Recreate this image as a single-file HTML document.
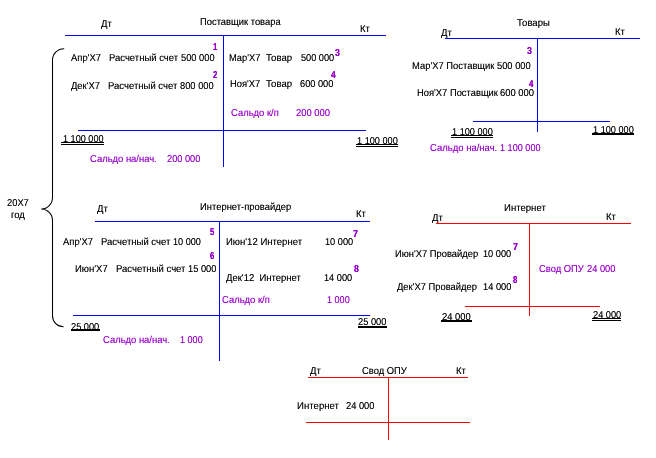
<!DOCTYPE html>
<html lang="ru">
<head>
<meta charset="utf-8">
<title>Т-счета</title>
<style>
html,body{margin:0;padding:0;background:#fff;}
body{width:656px;height:458px;position:relative;overflow:hidden;font-family:"Liberation Sans",sans-serif;}
#lines{position:absolute;left:0;top:0;}
#txt{position:absolute;left:0;top:0;width:656px;height:458px;will-change:transform;text-rendering:geometricPrecision;}
.t{position:absolute;white-space:pre;font-size:10px;line-height:12px;height:12px;margin:0;padding:0;text-shadow:0 0 0 rgba(0,0,0,0.5);transform-origin:0 0;}
.p{color:#9900cc;text-shadow:0 0 0 rgba(153,0,204,0.5);}
.b{font-weight:bold;text-shadow:0 0 0 #9900cc;}
</style>
</head>
<body>
<svg id="lines" width="656" height="458" viewBox="0 0 656 458">
<g shape-rendering="crispEdges">
<rect x="65" y="35" width="321" height="1" fill="#0000ff"/>
<rect x="78" y="130" width="288" height="1" fill="#0000ff"/>
<rect x="445" y="38" width="195" height="1" fill="#0000ff"/>
<rect x="473" y="121" width="137" height="1" fill="#0000ff"/>
<rect x="95" y="221" width="275" height="1" fill="#0000ff"/>
<rect x="73" y="315" width="297" height="1" fill="#0000ff"/>
<rect x="436" y="223" width="195" height="1" fill="#ff0000"/>
<rect x="465" y="306" width="135" height="1" fill="#ff0000"/>
<rect x="308" y="377" width="160" height="1" fill="#ff0000"/>
<rect x="306" y="422" width="164" height="1" fill="#ff0000"/>
<rect x="223" y="35" width="1" height="132" fill="#0000ff"/>
<rect x="537" y="38" width="1" height="94" fill="#0000ff"/>
<rect x="219" y="221" width="1" height="140" fill="#0000ff"/>
<rect x="529" y="223" width="1" height="93" fill="#ff0000"/>
<rect x="388" y="377" width="1" height="63" fill="#ff0000"/>
<rect x="61" y="142" width="43" height="1" fill="#000"/>
<rect x="61" y="144" width="43" height="1" fill="#000"/>
<rect x="356" y="144" width="42" height="1" fill="#000"/>
<rect x="356" y="146" width="42" height="1" fill="#000"/>
<rect x="451" y="135" width="42" height="1" fill="#000"/>
<rect x="451" y="137" width="42" height="1" fill="#000"/>
<rect x="592" y="133" width="42" height="2" fill="#000"/>
<rect x="71" y="329" width="29" height="2" fill="#000"/>
<rect x="358" y="326" width="29" height="2" fill="#000"/>
<rect x="441" y="320" width="31" height="2" fill="#000"/>
<rect x="592" y="318" width="29" height="1" fill="#000"/>
<rect x="592" y="320" width="29" height="1" fill="#000"/>
</g>
<path d="M64.2,48.7 A11.5,11.5 0 0 0 52.5,60.2 L52.5,197.5 A11.4,11.5 0 0 1 41.3,209 A11.4,11.5 0 0 1 52.5,220.5 L52.5,316 A11,10.7 0 0 0 63.5,326.7" fill="none" stroke="#000" stroke-width="1.05"/>
</svg>
<div id="txt">
<div class="t" style="left:100.78px;top:19px;transform:scaleX(0.9500);">Дт</div>
<div class="t" style="left:200.38px;top:17px;transform:scaleX(0.9380);">Поставщик товара</div>
<div class="t" style="left:360.06px;top:24px;transform:scaleX(0.9500);">Кт</div>
<div class="t" style="left:70.90px;top:53px;transform:scaleX(0.9420);">Апр'Х7</div>
<div class="t" style="left:108.86px;top:53px;transform:scaleX(0.9484);">Расчетный счет</div>
<div class="t" style="left:180.75px;top:53px;transform:scaleX(0.9293);">500 000</div>
<div class="t" style="left:70.90px;top:81px;transform:scaleX(0.9401);">Дек'Х7</div>
<div class="t" style="left:107.86px;top:81px;transform:scaleX(0.9519);">Расчетный счет</div>
<div class="t" style="left:179.83px;top:81px;transform:scaleX(0.9325);">800 000</div>
<div class="t p b" style="left:213.44px;top:42px;transform:scaleX(0.7800);">1</div>
<div class="t p b" style="left:212.78px;top:70px;transform:scaleX(0.7800);">2</div>
<div class="t" style="left:229.37px;top:53px;transform:scaleX(0.9316);">Мар'Х7</div>
<div class="t" style="left:266.40px;top:53px;transform:scaleX(0.9593);">Товар</div>
<div class="t" style="left:300.50px;top:53px;transform:scaleX(0.9181);">500 000</div>
<div class="t p b" style="left:334.54px;top:48px;transform:scaleX(0.8817);">3</div>
<div class="t" style="left:230.37px;top:79px;transform:scaleX(0.9354);">Ноя'Х7</div>
<div class="t" style="left:266.40px;top:79px;transform:scaleX(0.9593);">Товар</div>
<div class="t" style="left:300.08px;top:79px;transform:scaleX(0.9227);">600 000</div>
<div class="t p b" style="left:331.05px;top:70px;transform:scaleX(0.8471);">4</div>
<div class="t p" style="left:231.09px;top:108px;transform:scaleX(0.9441);">Сальдо к/п</div>
<div class="t p" style="left:296.33px;top:108px;transform:scaleX(0.9437);">200 000</div>
<div class="t" style="left:62.93px;top:134px;transform:scaleX(0.9107);">1 100 000</div>
<div class="t" style="left:356.53px;top:136px;transform:scaleX(0.9174);">1 100 000</div>
<div class="t p" style="left:89.84px;top:154px;transform:scaleX(0.9422);">Сальдо на/нач.</div>
<div class="t p" style="left:166.58px;top:154px;transform:scaleX(0.9228);">200 000</div>
<div class="t" style="left:517.15px;top:18px;transform:scaleX(0.9529);">Товары</div>
<div class="t" style="left:440.78px;top:28px;transform:scaleX(0.9500);">Дт</div>
<div class="t" style="left:615.06px;top:27px;transform:scaleX(0.9500);">Кт</div>
<div class="t p b" style="left:527.04px;top:46px;transform:scaleX(0.8817);">3</div>
<div class="t" style="left:412.11px;top:61px;transform:scaleX(0.9396);">Мар'Х7 Поставщик</div>
<div class="t" style="left:497.24px;top:61px;transform:scaleX(0.9321);">500 000</div>
<div class="t p b" style="left:529.24px;top:79px;transform:scaleX(0.7800);">4</div>
<div class="t" style="left:416.62px;top:88px;transform:scaleX(0.9368);">Ноя'Х7 Поставщик</div>
<div class="t" style="left:500.33px;top:88px;transform:scaleX(0.9435);">600 000</div>
<div class="t" style="left:451.53px;top:127px;transform:scaleX(0.9174);">1 100 000</div>
<div class="t" style="left:592.63px;top:125px;transform:scaleX(0.9174);">1 100 000</div>
<div class="t p" style="left:430.09px;top:143px;transform:scaleX(0.9494);">Сальдо на/нач.</div>
<div class="t p" style="left:499.63px;top:143px;transform:scaleX(0.9105);">1 100 000</div>
<div class="t" style="left:97.03px;top:204px;transform:scaleX(0.9500);">Дт</div>
<div class="t" style="left:200.36px;top:202px;transform:scaleX(0.9417);">Интернет-провайдер</div>
<div class="t" style="left:356.31px;top:209px;transform:scaleX(0.9500);">Кт</div>
<div class="t p b" style="left:209.73px;top:227px;transform:scaleX(0.7800);">5</div>
<div class="t" style="left:63.15px;top:237px;transform:scaleX(0.9420);">Апр'Х7</div>
<div class="t" style="left:101.11px;top:237px;transform:scaleX(0.9519);">Расчетный счет</div>
<div class="t" style="left:172.88px;top:237px;transform:scaleX(0.9107);">10 000</div>
<div class="t p b" style="left:209.79px;top:251px;transform:scaleX(0.7800);">6</div>
<div class="t" style="left:75.36px;top:264px;transform:scaleX(0.9541);">Июн'Х7</div>
<div class="t" style="left:116.21px;top:264px;transform:scaleX(0.9546);">Расчетный счет</div>
<div class="t" style="left:187.62px;top:264px;transform:scaleX(0.9271);">15 000</div>
<div class="t" style="left:225.86px;top:237px;transform:scaleX(0.9545);">Июн'12 Интернет</div>
<div class="t" style="left:324.63px;top:237px;transform:scaleX(0.9189);">10 000</div>
<div class="t p b" style="left:352.73px;top:229px;transform:scaleX(0.8945);">7</div>
<div class="t" style="left:225.65px;top:273px;transform:scaleX(0.9487);">Дек'12  Интернет</div>
<div class="t" style="left:323.88px;top:273px;transform:scaleX(0.9189);">14 000</div>
<div class="t p b" style="left:354.05px;top:264px;transform:scaleX(0.8800);">8</div>
<div class="t p" style="left:222.34px;top:295px;transform:scaleX(0.9441);">Сальдо к/п</div>
<div class="t p" style="left:327.13px;top:295px;transform:scaleX(0.9068);">1 000</div>
<div class="t" style="left:71.12px;top:322px;transform:scaleX(0.9222);">25 000</div>
<div class="t" style="left:358.32px;top:317px;transform:scaleX(0.9288);">25 000</div>
<div class="t p" style="left:103.09px;top:335px;transform:scaleX(0.9422);">Сальдо на/нач.</div>
<div class="t p" style="left:180.13px;top:335px;transform:scaleX(0.9068);">1 000</div>
<div class="t" style="left:503.61px;top:203px;transform:scaleX(0.9583);">Интернет</div>
<div class="t" style="left:432.03px;top:213px;transform:scaleX(0.9500);">Дт</div>
<div class="t" style="left:606.19px;top:212px;transform:scaleX(0.9500);">Кт</div>
<div class="t" style="left:394.62px;top:249px;transform:scaleX(0.9364);">Июн'Х7 Провайдер</div>
<div class="t" style="left:483.38px;top:249px;transform:scaleX(0.9189);">10 000</div>
<div class="t p b" style="left:512.73px;top:242px;transform:scaleX(0.8945);">7</div>
<div class="t" style="left:397.40px;top:282px;transform:scaleX(0.9371);">Дек'Х7 Провайдер</div>
<div class="t" style="left:482.62px;top:282px;transform:scaleX(0.9271);">14 000</div>
<div class="t p b" style="left:513.30px;top:275px;transform:scaleX(0.7800);">8</div>
<div class="t p" style="left:539.34px;top:264px;transform:scaleX(0.9394);">Свод ОПУ</div>
<div class="t p" style="left:586.83px;top:264px;transform:scaleX(0.9284);">24 000</div>
<div class="t" style="left:442.02px;top:312px;transform:scaleX(0.9386);">24 000</div>
<div class="t" style="left:592.52px;top:310px;transform:scaleX(0.9222);">24 000</div>
<div class="t" style="left:310.03px;top:366px;transform:scaleX(0.9500);">Дт</div>
<div class="t" style="left:362.34px;top:366px;transform:scaleX(0.9397);">Свод ОПУ</div>
<div class="t" style="left:455.94px;top:366px;transform:scaleX(0.9500);">Кт</div>
<div class="t" style="left:297.11px;top:401px;transform:scaleX(0.9630);">Интернет</div>
<div class="t" style="left:346.32px;top:401px;transform:scaleX(0.9288);">24 000</div>
<div class="t" style="left:7.12px;top:198px;transform:scaleX(0.9338);">20Х7</div>
<div class="t" style="left:10.93px;top:210px;transform:scaleX(0.9499);">год</div>
</div>
</body>
</html>
